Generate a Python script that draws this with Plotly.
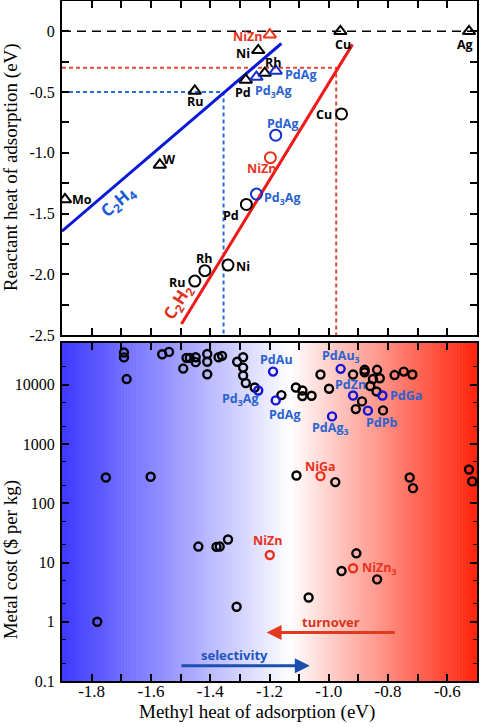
import plotly.graph_objects as go
import numpy as np

# ---------------- data: top panel (reactant vs methyl heat of adsorption) -------------
tri_black_names = ["Mo", "W", "Ru", "Pd", "Rh", "Ni", "Cu", "Ag"]
tri_black_x = [-1.89, -1.57, -1.452, -1.28, -1.216, -1.238, -0.961, -0.527]
tri_black_y = [-1.384, -1.10, -0.49, -0.40, -0.343, -0.156, 0.0, 0.0]
tri_blue_names = ["Pd<sub>3</sub>Ag", "PdAg"]
tri_blue_x = [-1.244, -1.179]
tri_blue_y = [-0.376, -0.326]
tri_red_names = ["NiZn"]
tri_red_x = [-1.199]
tri_red_y = [-0.027]

circ_black_names = ["Cu", "Pd", "Ni", "Rh", "Ru"]
circ_black_x = [-0.957, -1.278, -1.34, -1.418, -1.452]
circ_black_y = [-0.68, -1.425, -1.924, -1.97, -2.056]
circ_blue_names = ["PdAg", "Pd<sub>3</sub>Ag"]
circ_blue_x = [-1.179, -1.244]
circ_blue_y = [-0.855, -1.34]
circ_red_names = ["NiZn"]
circ_red_x = [-1.197]
circ_red_y = [-1.04]

c2h4_line_x = [-1.90, -1.16]
c2h4_line_y = [-1.645, -0.10]
c2h2_line_x = [-1.497, -0.92]
c2h2_line_y = [-2.41, -0.107]

c2h4_target = [-1.355, -0.5]   # (methyl, reactant)
c2h2_target = [-0.975, -0.3]

# ---------------- data: bottom panel (metal cost) ----------------
cost_black_x = [-1.691, -1.691, -1.682, -1.562, -1.539, -1.491, -1.480, -1.469, -1.449, -1.449,
                -1.410, -1.410, -1.410, -1.372, -1.360, -1.309, -1.289, -1.289, -1.289, -1.280,
                -1.250, -1.160, -1.111, -1.089, -1.089, -1.058, -1.028, -0.999, -0.918, -0.909,
                -0.888, -0.879, -0.879, -0.860, -0.851, -0.837, -0.828, -0.839, -0.817, -0.778,
                -0.747, -0.718, -1.752, -1.601, -1.109, -0.978, -0.727, -0.716, -0.527, -0.516,
                -1.440, -1.379, -1.368, -1.340, -1.311, -1.781, -1.068, -0.957, -0.907, -0.837]
cost_black_y = [35000, 29000, 12500, 32800, 35900, 18800, 28500, 28500, 29200, 24100,
                33100, 24500, 15100, 29200, 30800, 24500, 29200, 19500, 14300, 10700,
                9000, 6700, 9000, 8000, 6450, 6530, 14900, 8570, 14900, 3890,
                5250, 17900, 16300, 9550, 12500, 17900, 12900, 7730, 3700, 14600,
                16700, 14900, 272, 280, 295, 228, 272, 180, 372, 234,
                18.6, 18.4, 18.6, 24.5, 1.79, 1.0, 2.57, 7.2, 14.3, 5.2]
cost_blue_names = ["PdAu", "PdAu<sub>3</sub>", "Pd<sub>3</sub>Ag", "PdAg", "PdZn", "PdGa",
                   "PdAg<sub>3</sub>", "PdPb"]
cost_blue_x = [-1.188, -0.96, -1.238, -1.179, -0.918, -0.819, -0.989, -0.868]
cost_blue_y = [16700, 18600, 8000, 5450, 6600, 6600, 2930, 3660]
cost_red_names = ["NiGa", "NiZn", "NiZn<sub>3</sub>"]
cost_red_x = [-1.028, -1.199, -0.918]
cost_red_y = [287, 13.4, 8.0]

x_tick_vals = [-1.8, -1.6, -1.4, -1.2, -1.0, -0.8, -0.6]
x_tick_text = ["-1.8", "-1.6", "-1.4", "-1.2", "-1.0", "-0.8", "-0.6"]
y1_tick_vals = [0, -0.5, -1.0, -1.5, -2.0, -2.5]
y1_tick_text = ["0", "-0.5", "-1.0", "-1.5", "-2.0", "-2.5"]
y2_tick_vals = [0.1, 1, 10, 100, 1000, 10000]
y2_tick_text = ["0.1", "1", "10", "100", "1000", "10000"]

# ---------------- styles ----------------
BLACK = "#000000"
BLUE_M = "#1530d0"
BLUE_T = "#2a62d0"
RED = "#e8321e"
LBL_FONT = "Open Sans"
SERIF = "Liberation Serif"

XR = [-1.9, -0.5]

fig = go.Figure()

# gradient background for bottom panel
n_strips = 140
edges = np.linspace(XR[0], XR[1], n_strips + 1)
left_rgb = np.array([62, 58, 255])
white = np.array([255, 255, 255])
right_rgb = np.array([255, 34, 10])
mid = 0.55
for i in range(n_strips):
    f = (i + 0.5) / n_strips
    if f < mid:
        t = f / mid
        c = left_rgb + (white - left_rgb) * t
    else:
        t = (f - mid) / (1 - mid)
        c = white + (right_rgb - white) * t
    c = c.astype(int)
    fig.add_shape(type="rect", xref="x2", yref="y2 domain", x0=edges[i], x1=edges[i + 1] + 0.002,
                  y0=0, y1=1, fillcolor=f"rgb({c[0]},{c[1]},{c[2]})", line_width=0, layer="below")

# dashed reference lines (top)
fig.add_trace(go.Scatter(x=XR, y=[0, 0], mode="lines", line=dict(color=BLACK, width=1.5, dash="9px,6px"),
                         xaxis="x", yaxis="y", hoverinfo="skip"))
fig.add_trace(go.Scatter(x=[XR[0], c2h4_target[0], c2h4_target[0]], y=[c2h4_target[1], c2h4_target[1], -2.5],
                         mode="lines", line=dict(color="#2a6ad6", width=2, dash="4px,3px"),
                         xaxis="x", yaxis="y", hoverinfo="skip"))
fig.add_trace(go.Scatter(x=[XR[0], c2h2_target[0], c2h2_target[0]], y=[c2h2_target[1], c2h2_target[1], -2.5],
                         mode="lines", line=dict(color="#e04a38", width=2, dash="4px,3px"),
                         xaxis="x", yaxis="y", hoverinfo="skip"))

# scaling lines
fig.add_trace(go.Scatter(x=c2h4_line_x, y=c2h4_line_y, mode="lines", line=dict(color="#0a1ad8", width=3),
                         xaxis="x", yaxis="y"))
fig.add_trace(go.Scatter(x=c2h2_line_x, y=c2h2_line_y, mode="lines", line=dict(color="#f01818", width=3),
                         xaxis="x", yaxis="y"))


def pts(x, y, sym, col, size, lw, xa, ya):
    fig.add_trace(go.Scatter(x=x, y=y, mode="markers", xaxis=xa, yaxis=ya,
                             marker=dict(symbol=sym, size=size, color=col,
                                         line=dict(color=col, width=lw))))


pts(tri_black_x, tri_black_y, "triangle-up-open", BLACK, 11, 2, "x", "y")
pts(tri_blue_x, tri_blue_y, "triangle-up-open", BLUE_M, 11, 2, "x", "y")
pts(tri_red_x, tri_red_y, "triangle-up-open", RED, 11, 2, "x", "y")
pts(circ_black_x, circ_black_y, "circle-open", BLACK, 11, 2, "x", "y")
pts(circ_blue_x, circ_blue_y, "circle-open", BLUE_M, 11, 2, "x", "y")
pts(circ_red_x, circ_red_y, "circle-open", RED, 11, 2, "x", "y")

pts(cost_black_x, cost_black_y, "circle-open", BLACK, 8, 2.4, "x2", "y2")
pts(cost_blue_x, cost_blue_y, "circle-open", "#1414d8", 8, 2.4, "x2", "y2")
pts(cost_red_x, cost_red_y, "circle-open", RED, 8, 2.4, "x2", "y2")

annotations = []


def label(text, x, y, col, anchor, dx, dy, xref="x", yref="y", size=12.5):
    annotations.append(dict(text=text, x=x, y=y, xref=xref, yref=yref, showarrow=False,
                            xanchor=anchor, yanchor="middle", xshift=dx, yshift=-dy,
                            font=dict(family=LBL_FONT, size=size, color=col, weight="bold")))


tri_black_off = [("left", 5, 0), ("center", 10, -5), ("center", 0, 11), ("center", -3, 13),
                 ("center", 8, -11), ("right", -6, 3), ("center", 3, 13), ("center", -4, 13)]
for n, x, y, o in zip(tri_black_names, tri_black_x, tri_black_y, tri_black_off):
    label(n, x, y, BLACK, *o)
tri_blue_off = [("center", 17, 14), ("left", 7, 4)]
for n, x, y, o in zip(tri_blue_names, tri_blue_x, tri_blue_y, tri_blue_off):
    label(n, x, y, BLUE_T, *o)
for n, x, y in zip(tri_red_names, tri_red_x, tri_red_y):
    label(n, x, y, RED, "right", -6, 2)

circ_black_off = [("right", -8, 1), ("center", -15, 11), ("left", 6, 1), ("center", -1, -12), ("right", -8, 1)]
for n, x, y, o in zip(circ_black_names, circ_black_x, circ_black_y, circ_black_off):
    label(n, x, y, BLACK, *o)
circ_blue_off = [("center", 7, -12), ("left", 6, 4)]
for n, x, y, o in zip(circ_blue_names, circ_blue_x, circ_blue_y, circ_blue_off):
    label(n, x, y, BLUE_T, *o)
for n, x, y in zip(circ_red_names, circ_red_x, circ_red_y):
    label(n, x, y, RED, "center", -9, 11)

cost_blue_off = [("center", 3, -12), ("center", 0, -12), ("center", -18, 9), ("center", 9, 14),
                 ("center", -3, -11), ("left", 6, 0), ("center", -2, 12), ("center", 14, 12)]
for n, x, y, o in zip(cost_blue_names, cost_blue_x, cost_blue_y, cost_blue_off):
    label(n, x, np.log10(y), BLUE_T, *o, xref="x2", yref="y2")
cost_red_off = [("center", 0, -10), ("center", -2, -14), ("left", 7, 0)]
for n, x, y, o in zip(cost_red_names, cost_red_x, cost_red_y, cost_red_off):
    label(n, x, np.log10(y), RED, *o, xref="x2", yref="y2")

# line labels
annotations.append(dict(text="C<sub>2</sub>H<sub>4</sub>", x=-1.71, y=-1.40, xref="x", yref="y",
                        showarrow=False, textangle=-40,
                        font=dict(family=LBL_FONT, size=17, color="#1a5ad6", weight="bold")))
annotations.append(dict(text="C<sub>2</sub>H<sub>2</sub>", x=-1.51, y=-2.23, xref="x", yref="y",
                        showarrow=False, textangle=-58,
                        font=dict(family=LBL_FONT, size=17, color="#e0321e", weight="bold")))

# arrows
annotations.append(dict(x=-1.21, y=-0.18, ax=-0.772, ay=-0.18, xref="x2", yref="y2", axref="x2", ayref="y2",
                        text="", showarrow=True, arrowhead=2, arrowsize=1, arrowwidth=3, arrowcolor="#e23a1e"))
annotations.append(dict(x=-1.064, y=-0.743, ax=-1.502, ay=-0.743, xref="x2", yref="y2", axref="x2", ayref="y2",
                        text="", showarrow=True, arrowhead=2, arrowsize=1, arrowwidth=3, arrowcolor="#1a4fb0"))
annotations.append(dict(text="turnover", x=-0.991, y=0.0, xref="x2", yref="y2", showarrow=False,
                        font=dict(family=LBL_FONT, size=13, color="#d8361c", weight="bold")))
annotations.append(dict(text="selectivity", x=-1.317, y=-0.56, xref="x2", yref="y2", showarrow=False,
                        font=dict(family=LBL_FONT, size=13, color="#1a55c0", weight="bold")))

# axis titles as annotations
annotations.append(dict(text="Reactant heat of adsorption (eV)", x=-0.122, y=0.756, xref="paper", yref="paper",
                        showarrow=False, textangle=-90, xanchor="center", yanchor="middle",
                        font=dict(family=SERIF, size=19, color=BLACK)))
annotations.append(dict(text="Metal cost ($ per kg)", x=-0.122, y=0.178, xref="paper", yref="paper",
                        showarrow=False, textangle=-90, xanchor="center", yanchor="middle",
                        font=dict(family=SERIF, size=19, color=BLACK)))
annotations.append(dict(text="Methyl heat of adsorption (eV)", x=0.471, y=-0.045, xref="paper", yref="paper",
                        showarrow=False, xanchor="center", yanchor="middle",
                        font=dict(family=SERIF, size=19, color=BLACK)))

ax_common = dict(showline=True, linewidth=2, linecolor=BLACK, mirror="ticks", ticks="inside",
                 ticklen=7, tickwidth=1.5, tickcolor=BLACK, showgrid=False, zeroline=False,
                 automargin=False)

fig.update_layout(
    width=482, height=727,
    margin=dict(l=62, r=5, t=1, b=46),
    paper_bgcolor="white", plot_bgcolor="white",
    showlegend=False,
    annotations=annotations,
    xaxis=dict(domain=[0, 1], anchor="y", range=XR, tick0=-1.9, dtick=0.1, showticklabels=False, **ax_common),
    yaxis=dict(domain=[0.5088, 1], anchor="x", range=[-2.5, 0.25],
               tickvals=y1_tick_vals, ticktext=y1_tick_text,
               minor=dict(tick0=0, dtick=0.25, ticks="inside", ticklen=7, tickwidth=1.5, tickcolor=BLACK,
                          showgrid=False),
               tickfont=dict(family=SERIF, size=16, color=BLACK), ticklabelstandoff=2, **ax_common),
    xaxis2=dict(domain=[0, 1], anchor="y2", range=XR, tickvals=x_tick_vals, ticktext=x_tick_text,
                minor=dict(tick0=-1.9, dtick=0.1, ticks="inside", ticklen=7, tickwidth=1.5, tickcolor=BLACK,
                           showgrid=False),
                tickfont=dict(family=SERIF, size=17, color=BLACK), ticklabelstandoff=-6, **ax_common),
    yaxis2=dict(domain=[0, 0.497], anchor="x2", type="log", range=[-1, 4.705],
                tickvals=y2_tick_vals, ticktext=y2_tick_text,
                tickfont=dict(family=SERIF, size=16, color=BLACK), ticklabelstandoff=2,
                minor=dict(ticks="inside", ticklen=4, tickwidth=1, tickcolor=BLACK, showgrid=False),
                **ax_common),
)

fig.write_html("out.html", config={"displayModeBar": False},
               post_script="document.body.style.margin='0px';")
